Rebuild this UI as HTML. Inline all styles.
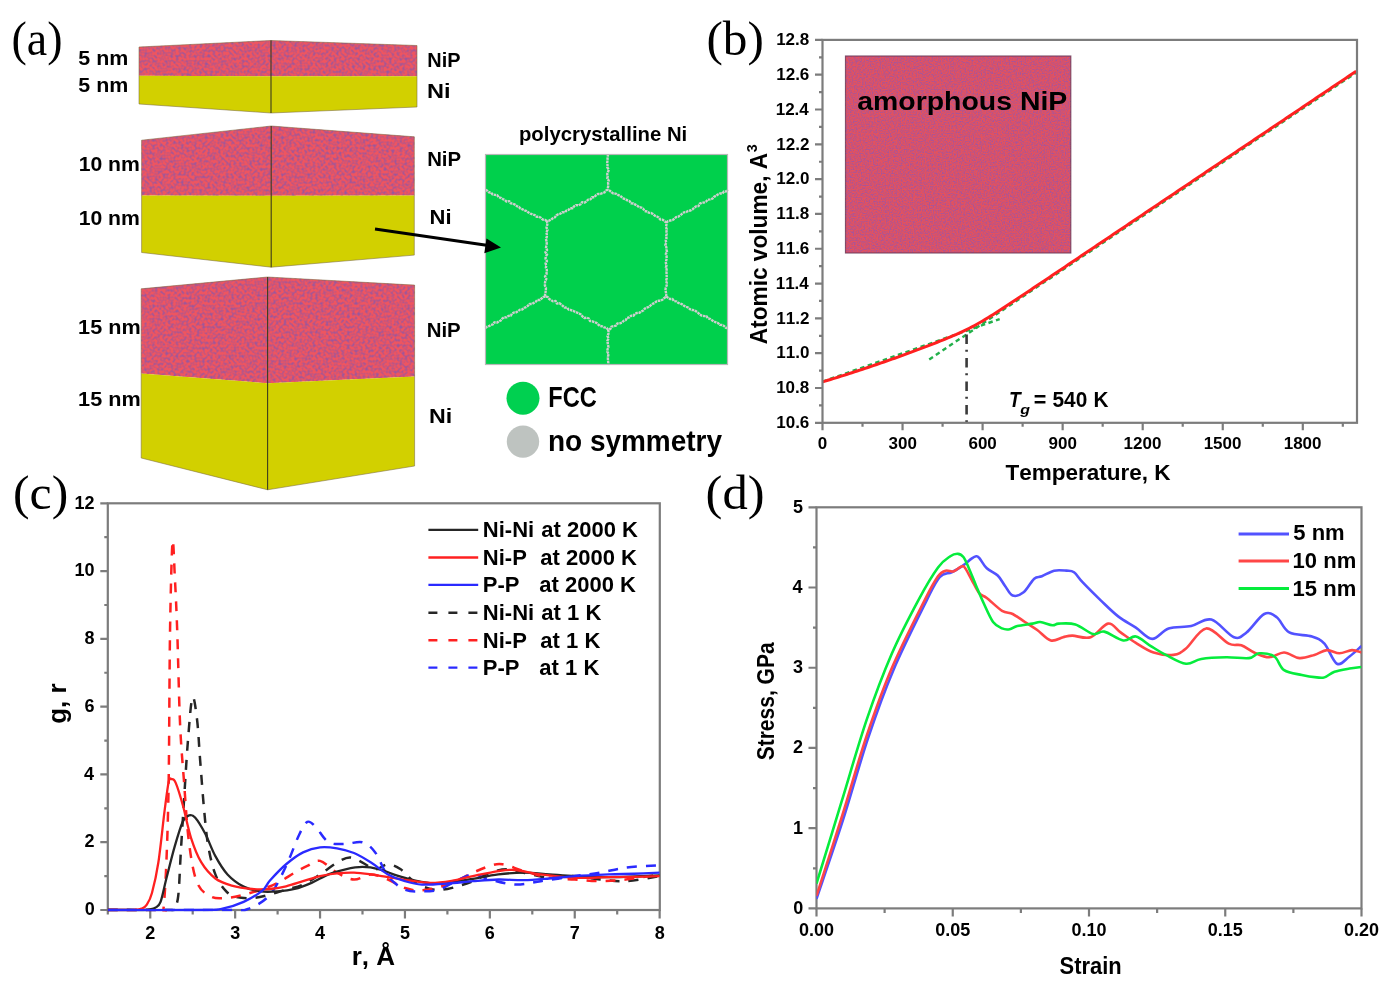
<!DOCTYPE html>
<html><head><meta charset="utf-8"><style>
html,body{margin:0;padding:0;background:#fff;width:1389px;height:984px;overflow:hidden}
svg{display:block}
#w{}
text{font-kerning:none}
#w{will-change:transform}
.b{font-family:"Liberation Sans",sans-serif;font-weight:bold}
.bi{font-family:"Liberation Sans",sans-serif;font-weight:bold;font-style:italic}
.r{font-family:"Liberation Sans",sans-serif}
.s{font-family:"Liberation Serif",serif}
</style></head><body>
<div id="w"><svg width="1389" height="984" viewBox="0 0 1389 984">
<rect width="1389" height="984" fill="#fff"/>

<defs>
<clipPath id="clipc"><rect x="107.8" y="503.3" width="552.0" height="408.3"/></clipPath>
<clipPath id="clipd"><rect x="816.5" y="497.3" width="545.0" height="411.09999999999997"/></clipPath>
<filter id="speck" x="0" y="0" width="100%" height="100%" color-interpolation-filters="sRGB">
<feTurbulence type="fractalNoise" baseFrequency="0.38" numOctaves="1" seed="7" result="n"/>
<feColorMatrix in="n" type="matrix" values="0 0 0 0 0.60  0 0 0 0 0.34  0 0 0 0 0.62  2.6 0 0 0 -1.02" result="bl"/>
<feGaussianBlur in="bl" stdDeviation="0.7" result="blb"/>
<feComposite in="blb" in2="SourceAlpha" operator="in" result="b2"/>
<feMerge><feMergeNode in="SourceGraphic"/><feMergeNode in="b2"/></feMerge>
</filter>
<filter id="speck2" x="0" y="0" width="100%" height="100%" color-interpolation-filters="sRGB">
<feTurbulence type="fractalNoise" baseFrequency="0.75" numOctaves="2" seed="11" result="n"/>
<feColorMatrix in="n" type="matrix" values="0 0 0 0 0.66  0 0 0 0 0.33  0 0 0 0 0.60  3.0 0 0 0 -1.2" result="bl"/>
<feGaussianBlur in="bl" stdDeviation="0.6" result="blb"/>
<feComposite in="blb" in2="SourceAlpha" operator="in" result="b2"/>
<feMerge><feMergeNode in="SourceGraphic"/><feMergeNode in="b2"/></feMerge>
</filter>
</defs>
<text class="s" x="11.48" y="54.50" font-size="48.00" textLength="51.04" lengthAdjust="spacingAndGlyphs" fill="#000">(a)</text>
<text class="s" x="706.44" y="55.00" font-size="48.00" textLength="57.32" lengthAdjust="spacingAndGlyphs" fill="#000">(b)</text>
<text class="s" x="13.02" y="509.00" font-size="48.00" textLength="55.17" lengthAdjust="spacingAndGlyphs" fill="#000">(c)</text>
<text class="s" x="705.57" y="509.00" font-size="48.00" textLength="59.05" lengthAdjust="spacingAndGlyphs" fill="#000">(d)</text>
<path d="M139,47 L271,40.5 L417,45.5 L417,76.2 L271,76.2 L139,75.8 Z" fill="#ee5560" filter="url(#speck)"/><path d="M139,75.8 L271,76.2 L417,76.2 L417,107 L271,113 L139,104 Z" fill="#d2d000"/><path d="M139,47 L271,40.5 L417,45.5 L417,107 L271,113 L139,104 Z" fill="none" stroke="#7a6a40" stroke-opacity="0.55" stroke-width="1"/><line x1="271" y1="40.5" x2="271" y2="113" stroke="#3c3c1c" stroke-width="1.1"/>
<path d="M141.6,140.2 L271.2,126 L414.3,136.8 L414.3,195.5 L271.2,195.8 L141.6,195.5 Z" fill="#ee5560" filter="url(#speck)"/><path d="M141.6,195.5 L271.2,195.8 L414.3,195.5 L414.3,255.1 L271.2,267.2 L141.6,252.5 Z" fill="#d2d000"/><path d="M141.6,140.2 L271.2,126 L414.3,136.8 L414.3,255.1 L271.2,267.2 L141.6,252.5 Z" fill="none" stroke="#7a6a40" stroke-opacity="0.55" stroke-width="1"/><line x1="271.2" y1="126" x2="271.2" y2="267.2" stroke="#3c3c1c" stroke-width="1.1"/>
<path d="M141.2,288.8 L267.6,277 L414.6,285.1 L414.6,376.6 L267.6,383.2 L141.2,373.6 Z" fill="#ee5560" filter="url(#speck)"/><path d="M141.2,373.6 L267.6,383.2 L414.6,376.6 L414.6,466 L267.6,489.8 L141.2,458 Z" fill="#d2d000"/><path d="M141.2,288.8 L267.6,277 L414.6,285.1 L414.6,466 L267.6,489.8 L141.2,458 Z" fill="none" stroke="#7a6a40" stroke-opacity="0.55" stroke-width="1"/><line x1="267.6" y1="277" x2="267.6" y2="489.8" stroke="#3c3c1c" stroke-width="1.1"/>
<text class="b" x="78.34" y="65.00" font-size="20.50" textLength="49.99" lengthAdjust="spacingAndGlyphs" fill="#000">5 nm</text>
<text class="b" x="78.34" y="92.00" font-size="20.50" textLength="49.99" lengthAdjust="spacingAndGlyphs" fill="#000">5 nm</text>
<text class="b" x="427.37" y="66.70" font-size="21.00" textLength="33.21" lengthAdjust="spacingAndGlyphs" fill="#000">NiP</text>
<text class="b" x="427.13" y="98.00" font-size="21.00" textLength="23.54" lengthAdjust="spacingAndGlyphs" fill="#000">Ni</text>
<text class="b" x="78.67" y="170.50" font-size="21.00" textLength="61.25" lengthAdjust="spacingAndGlyphs" fill="#000">10 nm</text>
<text class="b" x="78.67" y="225.40" font-size="21.00" textLength="61.25" lengthAdjust="spacingAndGlyphs" fill="#000">10 nm</text>
<text class="b" x="427.14" y="166.20" font-size="21.00" textLength="33.96" lengthAdjust="spacingAndGlyphs" fill="#000">NiP</text>
<text class="b" x="429.53" y="224.00" font-size="21.00" textLength="22.03" lengthAdjust="spacingAndGlyphs" fill="#000">Ni</text>
<text class="b" x="78.14" y="334.40" font-size="21.00" textLength="62.50" lengthAdjust="spacingAndGlyphs" fill="#000">15 nm</text>
<text class="b" x="78.14" y="405.60" font-size="21.00" textLength="62.50" lengthAdjust="spacingAndGlyphs" fill="#000">15 nm</text>
<text class="b" x="426.63" y="336.80" font-size="21.00" textLength="34.07" lengthAdjust="spacingAndGlyphs" fill="#000">NiP</text>
<text class="b" x="428.95" y="423.40" font-size="21.00" textLength="23.19" lengthAdjust="spacingAndGlyphs" fill="#000">Ni</text>
<text class="b" x="518.96" y="140.80" font-size="20.60" textLength="168.28" lengthAdjust="spacingAndGlyphs" fill="#000">polycrystalline Ni</text>
<rect x="485" y="154" width="243" height="211" fill="#00d04c"/>
<path d="M608.00,154.00 L607.78,156.22 L607.56,158.45 L607.47,160.68 L607.20,162.90 L607.57,165.12 L607.24,167.35 L608.85,169.57 L608.06,171.80 L607.20,174.03 L607.73,176.25 L607.28,178.47 L608.70,180.70 L608.06,182.93 L608.46,185.15 L607.92,187.38 L608.00,189.60" fill="none" stroke="#cfcfcf" stroke-width="2.4" stroke-linejoin="round" stroke-dasharray="2.6 0.7"/>
<path d="M608.00,189.60 L605.96,190.50 L604.45,192.41 L602.31,193.10 L600.28,194.02 L597.79,194.01 L595.94,195.27 L594.46,197.26 L591.96,197.25 L590.53,199.32 L588.16,199.57 L586.59,201.37 L584.72,202.59 L582.03,202.22 L580.60,204.29 L578.62,205.30 L576.02,205.09 L574.13,206.28 L572.64,208.23 L570.11,208.17 L568.48,209.86 L566.40,210.65 L564.81,212.43 L562.23,212.27 L560.46,213.68 L558.26,214.26 L556.35,215.39 L554.86,217.36 L552.84,218.27 L551.02,219.60 L549.07,220.65 L546.80,221.10 L547.54,223.33 L547.08,225.55 L546.50,227.76 L547.54,230.00 L546.29,232.20 L546.86,234.43 L546.87,236.65 L545.92,238.85 L546.49,241.09 L546.75,243.31 L546.41,245.53 L545.97,247.74 L547.10,249.98 L545.41,252.17 L547.09,254.42 L545.74,256.62 L545.53,258.84 L546.98,261.09 L545.56,263.28 L546.28,265.52 L545.86,267.73 L546.84,269.97 L546.74,272.19 L546.46,274.40 L545.02,276.60 L546.35,278.84 L545.31,281.05 L544.96,283.26 L544.90,285.48 L545.93,287.72 L545.88,289.94 L545.53,292.16 L545.04,294.37 L545.50,296.60 L547.78,297.00 L549.20,299.05 L551.11,300.16 L553.01,301.29 L555.65,301.00 L556.84,303.48 L559.51,303.15 L561.26,304.57 L562.99,306.03 L564.68,307.55 L567.12,307.65 L568.58,309.61 L570.85,310.04 L573.00,310.70 L574.95,311.73 L577.02,312.54 L579.06,313.41 L580.95,314.55 L582.45,316.44 L584.15,317.95 L586.80,317.65 L588.85,318.50 L590.01,321.02 L592.35,321.33 L594.41,322.15 L596.50,322.91 L598.16,324.51 L599.91,325.91 L602.18,326.35 L604.16,327.32 L606.42,327.76 L608.00,329.50 L610.31,329.06 L611.47,326.57 L613.81,326.20 L616.06,325.64 L617.37,323.44 L619.85,323.28 L621.98,322.53 L623.64,320.93 L625.72,320.08 L627.05,317.92 L629.28,317.33 L630.97,315.79 L633.53,315.78 L634.98,313.83 L637.06,312.98 L639.48,312.74 L641.29,311.41 L643.34,310.51 L644.82,308.59 L646.79,307.55 L648.94,306.83 L650.66,305.34 L652.43,303.95 L654.47,303.03 L656.19,301.53 L658.33,300.79 L660.81,300.66 L662.73,299.51 L664.37,297.90 L666.20,296.60 L666.20,294.35 L665.91,292.11 L665.46,289.86 L665.79,287.62 L666.71,285.37 L666.86,283.13 L665.95,280.88 L666.71,278.64 L666.69,276.39 L666.55,274.15 L666.50,271.90 L666.67,269.65 L665.95,267.41 L666.57,265.16 L665.81,262.92 L666.17,260.67 L666.69,258.43 L666.54,256.18 L665.83,253.94 L667.00,251.69 L666.47,249.45 L666.35,247.20 L665.32,244.95 L666.28,242.71 L665.75,240.46 L666.51,238.22 L666.13,235.97 L666.77,233.73 L666.47,231.48 L666.74,229.24 L665.93,226.99 L666.46,224.75 L666.20,222.50 L664.47,221.03 L662.61,219.79 L660.25,219.44 L658.74,217.58 L656.83,216.44 L654.73,215.62 L653.04,214.08 L651.08,213.01 L648.76,212.60 L646.83,211.49 L644.56,210.96 L643.22,208.81 L641.37,207.56 L639.02,207.18 L637.27,205.75 L635.35,204.61 L633.42,203.50 L630.99,203.27 L629.59,201.22 L627.47,200.44 L625.61,199.21 L623.45,198.50 L621.69,197.08 L619.88,195.75 L617.82,194.87 L615.96,193.64 L613.40,193.63 L611.58,192.33 L609.89,190.79 L608.00,189.60" fill="none" stroke="#cfcfcf" stroke-width="2.4" stroke-linejoin="round" stroke-dasharray="2.6 0.7"/>
<path d="M546.80,221.10 L544.93,219.84 L542.58,219.52 L540.97,217.75 L538.93,216.83 L536.46,216.75 L534.82,215.05 L532.62,214.43 L530.49,213.69 L528.56,212.54 L526.72,211.23 L524.61,210.43 L522.63,209.40 L520.50,208.63 L518.86,206.93 L516.80,206.05 L514.99,204.66 L512.98,203.68 L510.70,203.23 L509.25,201.15 L506.52,201.58 L504.86,199.91 L502.76,199.10 L500.87,197.87 L498.64,197.33 L497.23,195.17 L494.86,194.88 L492.59,194.41 L491.07,192.47 L488.66,192.28 L487.03,190.54 L485.00,189.60" fill="none" stroke="#cfcfcf" stroke-width="2.4" stroke-linejoin="round" stroke-dasharray="2.6 0.7"/>
<path d="M666.20,222.50 L668.06,221.18 L670.26,220.51 L672.57,220.04 L674.44,218.76 L676.10,217.07 L678.43,216.63 L680.28,215.30 L682.04,213.80 L683.84,212.38 L686.22,212.04 L688.18,210.93 L690.51,210.49 L692.51,209.45 L694.20,207.81 L695.98,206.34 L698.43,206.14 L699.67,203.67 L701.75,202.77 L704.13,202.44 L706.17,201.46 L707.76,199.64 L710.17,199.36 L712.38,198.71 L713.94,196.83 L715.98,195.86 L717.80,194.47 L719.85,193.51 L722.42,193.53 L723.91,191.53 L726.40,191.39 L728.00,189.60" fill="none" stroke="#cfcfcf" stroke-width="2.4" stroke-linejoin="round" stroke-dasharray="2.6 0.7"/>
<path d="M545.50,296.60 L543.20,296.96 L541.52,298.49 L539.85,300.04 L537.29,299.91 L535.75,301.70 L533.86,302.85 L531.99,304.02 L529.48,303.98 L527.94,305.79 L526.16,307.13 L524.05,307.85 L522.40,309.44 L520.03,309.66 L518.22,310.96 L516.40,312.22 L514.04,312.46 L512.05,313.41 L510.78,315.73 L508.39,315.92 L506.66,317.35 L504.15,317.31 L502.33,318.58 L500.82,320.45 L498.85,321.44 L497.00,322.63 L494.35,322.32 L492.98,324.45 L490.76,324.97 L488.92,326.20 L486.83,326.95 L485.00,328.20" fill="none" stroke="#cfcfcf" stroke-width="2.4" stroke-linejoin="round" stroke-dasharray="2.6 0.7"/>
<path d="M666.20,296.60 L668.11,297.79 L669.99,299.03 L672.49,299.05 L673.96,301.09 L676.33,301.38 L678.13,302.77 L680.29,303.47 L682.31,304.43 L684.12,305.82 L686.16,306.74 L688.24,307.59 L689.92,309.22 L692.04,310.00 L694.49,310.13 L696.31,311.49 L698.13,312.84 L699.75,314.60 L701.77,315.57 L704.04,316.04 L706.47,316.21 L707.84,318.45 L710.12,318.91 L711.99,320.17 L713.87,321.40 L715.93,322.30 L718.05,323.07 L719.69,324.78 L722.11,324.96 L724.10,325.99 L725.72,327.74 L728.00,328.20" fill="none" stroke="#cfcfcf" stroke-width="2.4" stroke-linejoin="round" stroke-dasharray="2.6 0.7"/>
<path d="M608.00,329.50 L608.55,331.72 L608.37,333.94 L607.41,336.16 L608.78,338.38 L607.39,340.59 L607.65,342.81 L608.12,345.03 L608.38,347.25 L607.49,349.47 L607.26,351.69 L608.64,353.91 L608.04,356.12 L607.91,358.34 L608.00,360.56 L608.30,362.78 L608.00,365.00" fill="none" stroke="#cfcfcf" stroke-width="2.4" stroke-linejoin="round" stroke-dasharray="2.6 0.7"/>
<rect x="485.5" y="154.5" width="242" height="210" fill="none" stroke="#b8b8b8" stroke-width="1.2"/>
<line x1="375" y1="229" x2="490" y2="245.8" stroke="#000" stroke-width="3"/>
<path d="M501,247.5 L486.5,238.6 L484.3,253.2 Z" fill="#000"/>
<circle cx="523" cy="398.2" r="16.5" fill="#00d050"/>
<circle cx="523" cy="441.6" r="16.2" fill="#bec3c0"/>
<text class="b" x="548.22" y="406.70" font-size="29.80" textLength="48.53" lengthAdjust="spacingAndGlyphs" fill="#000">FCC</text>
<text class="b" x="547.96" y="450.50" font-size="29.00" textLength="174.09" lengthAdjust="spacingAndGlyphs" fill="#000">no symmetry</text>
<rect x="845.5" y="56" width="225.3" height="197" fill="#e2525f" filter="url(#speck2)"/>
<rect x="845.5" y="56" width="225.3" height="197" fill="none" stroke="#6a3858" stroke-width="1.2" stroke-opacity="0.8"/>
<text class="b" x="857.27" y="109.70" font-size="26.20" textLength="210.00" lengthAdjust="spacingAndGlyphs" fill="#000">amorphous NiP</text>
<path d="M822.50,382.77 L999.68,320.13" stroke="#22b04a" stroke-width="2.4" stroke-dasharray="4.5 3.5" fill="none" transform="translate(0,-1.1)"/>
<path d="M929.23,358.06 L1356.17,71.23" stroke="#22b04a" stroke-width="2.4" stroke-dasharray="4.5 3.5" fill="none" transform="translate(0,1.4)"/>
<path d="M822.50,381.90 L825.17,381.10 L827.84,380.29 L830.50,379.47 L833.17,378.65 L835.84,377.83 L838.51,377.00 L841.18,376.16 L843.85,375.32 L846.51,374.47 L849.18,373.61 L851.85,372.76 L854.52,371.89 L857.19,371.02 L859.86,370.14 L862.52,369.26 L865.19,368.38 L867.86,367.48 L870.53,366.59 L873.20,365.68 L875.87,364.77 L878.53,363.86 L881.20,362.94 L883.87,362.01 L886.54,361.08 L889.21,360.14 L891.88,359.20 L894.54,358.25 L897.21,357.30 L899.88,356.34 L902.55,355.37 L905.22,354.40 L907.89,353.43 L910.55,352.44 L913.22,351.45 L915.89,350.46 L918.56,349.46 L921.23,348.45 L923.90,347.44 L926.57,346.42 L929.23,345.39 L931.90,344.35 L934.57,343.31 L937.24,342.26 L939.91,341.19 L942.58,340.12 L945.24,339.03 L947.91,337.93 L950.58,336.81 L953.25,335.67 L955.92,334.51 L958.59,333.32 L961.25,332.11 L963.92,330.86 L966.59,329.57 L969.26,328.24 L971.93,326.87 L974.60,325.46 L977.26,324.01 L979.93,322.51 L982.60,320.97 L985.27,319.40 L987.94,317.79 L990.61,316.14 L993.27,314.48 L995.94,312.79 L998.61,311.08 L1001.28,309.36 L1003.95,307.62 L1006.62,305.87 L1009.28,304.12 L1011.95,302.36 L1014.62,300.59 L1017.29,298.81 L1019.96,297.04 L1022.62,295.26 L1025.29,293.47 L1027.96,291.69 L1030.63,289.90 L1033.30,288.12 L1035.97,286.33 L1038.63,284.54 L1041.30,282.75 L1043.97,280.96 L1046.64,279.17 L1049.31,277.38 L1051.98,275.59 L1054.64,273.79 L1057.31,272.00 L1059.98,270.21 L1062.65,268.42 L1065.32,266.63 L1067.99,264.83 L1070.65,263.04 L1073.32,261.25 L1075.99,259.46 L1078.66,257.66 L1081.33,255.87 L1084.00,254.08 L1086.66,252.29 L1089.33,250.49 L1092.00,248.70 L1094.67,246.91 L1097.34,245.12 L1100.01,243.32 L1102.67,241.53 L1105.34,239.74 L1108.01,237.95 L1110.68,236.15 L1113.35,234.36 L1116.02,232.57 L1118.68,230.78 L1121.35,228.98 L1124.02,227.19 L1126.69,225.40 L1129.36,223.60 L1132.03,221.81 L1134.69,220.02 L1137.36,218.23 L1140.03,216.43 L1142.70,214.64 L1145.37,212.85 L1148.04,211.06 L1150.70,209.26 L1153.37,207.47 L1156.04,205.68 L1158.71,203.89 L1161.38,202.09 L1164.05,200.30 L1166.71,198.51 L1169.38,196.71 L1172.05,194.92 L1174.72,193.13 L1177.39,191.34 L1180.06,189.54 L1182.72,187.75 L1185.39,185.96 L1188.06,184.17 L1190.73,182.37 L1193.40,180.58 L1196.07,178.79 L1198.73,177.00 L1201.40,175.20 L1204.07,173.41 L1206.74,171.62 L1209.41,169.82 L1212.08,168.03 L1214.74,166.24 L1217.41,164.45 L1220.08,162.65 L1222.75,160.86 L1225.42,159.07 L1228.09,157.28 L1230.75,155.48 L1233.42,153.69 L1236.09,151.90 L1238.76,150.11 L1241.43,148.31 L1244.10,146.52 L1246.76,144.73 L1249.43,142.93 L1252.10,141.14 L1254.77,139.35 L1257.44,137.56 L1260.11,135.76 L1262.78,133.97 L1265.44,132.18 L1268.11,130.39 L1270.78,128.59 L1273.45,126.80 L1276.12,125.01 L1278.78,123.22 L1281.45,121.42 L1284.12,119.63 L1286.79,117.84 L1289.46,116.04 L1292.13,114.25 L1294.80,112.46 L1297.46,110.67 L1300.13,108.87 L1302.80,107.08 L1305.47,105.29 L1308.14,103.50 L1310.80,101.70 L1313.47,99.91 L1316.14,98.12 L1318.81,96.33 L1321.48,94.53 L1324.15,92.74 L1326.82,90.95 L1329.48,89.15 L1332.15,87.36 L1334.82,85.57 L1337.49,83.78 L1340.16,81.98 L1342.82,80.19 L1345.49,78.40 L1348.16,76.61 L1350.83,74.81 L1353.50,73.02 L1356.17,71.23" stroke="#ff2020" stroke-width="3" fill="none"/>
<path d="M966.59,334.5 L966.59,422.8" stroke="#3a3a3a" stroke-width="2.6" stroke-dasharray="9.5 5.8 2 6.2" fill="none"/>
<rect x="822.5" y="39.9" width="534.5" height="382.90000000000003" fill="none" stroke="#7c7c7c" stroke-width="2.2"/>
<path d="M822.5,422.80 h-7.5 M822.5,405.40 h-3.5 M822.5,387.99 h-7.5 M822.5,370.59 h-3.5 M822.5,353.18 h-7.5 M822.5,335.78 h-3.5 M822.5,318.37 h-7.5 M822.5,300.97 h-3.5 M822.5,283.56 h-7.5 M822.5,266.16 h-3.5 M822.5,248.75 h-7.5 M822.5,231.35 h-3.5 M822.5,213.95 h-7.5 M822.5,196.54 h-3.5 M822.5,179.14 h-7.5 M822.5,161.73 h-3.5 M822.5,144.33 h-7.5 M822.5,126.92 h-3.5 M822.5,109.52 h-7.5 M822.5,92.11 h-3.5 M822.5,74.71 h-7.5 M822.5,57.30 h-3.5 M822.5,39.90 h-7.5 M822.50,422.8 v7.5 M862.52,422.8 v4 M902.55,422.8 v7.5 M942.58,422.8 v4 M982.60,422.8 v7.5 M1022.62,422.8 v4 M1062.65,422.8 v7.5 M1102.67,422.8 v4 M1142.70,422.8 v7.5 M1182.72,422.8 v4 M1222.75,422.8 v7.5 M1262.78,422.8 v4 M1302.80,422.8 v7.5 M1342.82,422.8 v4 " stroke="#7c7c7c" stroke-width="2.2" fill="none"/>
<text class="b" x="776.23" y="428.00" font-size="17.00" fill="#000">10.6</text>
<text class="b" x="776.14" y="393.19" font-size="17.00" fill="#000">10.8</text>
<text class="b" x="776.31" y="358.38" font-size="17.00" fill="#000">11.0</text>
<text class="b" x="776.29" y="323.57" font-size="17.00" fill="#000">11.2</text>
<text class="b" x="775.70" y="288.76" font-size="17.00" fill="#000">11.4</text>
<text class="b" x="776.23" y="253.95" font-size="17.00" fill="#000">11.6</text>
<text class="b" x="776.14" y="219.15" font-size="17.00" fill="#000">11.8</text>
<text class="b" x="776.31" y="184.34" font-size="17.00" fill="#000">12.0</text>
<text class="b" x="776.29" y="149.53" font-size="17.00" fill="#000">12.2</text>
<text class="b" x="775.70" y="114.72" font-size="17.00" fill="#000">12.4</text>
<text class="b" x="776.23" y="79.91" font-size="17.00" fill="#000">12.6</text>
<text class="b" x="776.14" y="45.10" font-size="17.00" fill="#000">12.8</text>
<text class="b" x="817.79" y="449.20" font-size="17.00" fill="#000">0</text>
<text class="b" x="888.52" y="449.20" font-size="17.00" fill="#000">300</text>
<text class="b" x="968.46" y="449.20" font-size="17.00" fill="#000">600</text>
<text class="b" x="1048.52" y="449.20" font-size="17.00" fill="#000">900</text>
<text class="b" x="1123.60" y="449.20" font-size="17.00" fill="#000">1200</text>
<text class="b" x="1203.65" y="449.20" font-size="17.00" fill="#000">1500</text>
<text class="b" x="1283.70" y="449.20" font-size="17.00" fill="#000">1800</text>
<text class="b" x="1005.55" y="480.30" font-size="22.70" textLength="165.06" lengthAdjust="spacingAndGlyphs" fill="#000">Temperature, K</text>
<text class="bi" x="1009.05" y="407.20" font-size="22.00" textLength="11.61" lengthAdjust="spacingAndGlyphs" fill="#000">T</text>
<text class="bi" x="1020.35" y="414.40" font-size="13.50" textLength="9.72" lengthAdjust="spacingAndGlyphs" fill="#000">g</text>
<text class="b" x="1033.71" y="407.20" font-size="22.00" textLength="12.58" lengthAdjust="spacingAndGlyphs" fill="#000">=</text>
<text class="b" x="1052.46" y="407.20" font-size="22.00" textLength="34.80" lengthAdjust="spacingAndGlyphs" fill="#000">540</text>
<text class="b" x="1093.61" y="407.20" font-size="22.00" textLength="14.98" lengthAdjust="spacingAndGlyphs" fill="#000">K</text>
<text class="b" x="-344.26" y="766.60" font-size="24.00" textLength="191.36" lengthAdjust="spacingAndGlyphs" fill="#000" transform="rotate(-90)">Atomic volume, A</text>
<text class="b" x="-152.33" y="756.50" font-size="15.50" textLength="7.94" lengthAdjust="spacingAndGlyphs" fill="#000" transform="rotate(-90)">3</text>
<rect x="107.8" y="503.3" width="552.0" height="406.7" fill="none" stroke="#7c7c7c" stroke-width="2.2"/>
<path d="M107.8,910.00 h-7.5 M107.8,876.11 h-3.5 M107.8,842.22 h-7.5 M107.8,808.33 h-3.5 M107.8,774.43 h-7.5 M107.8,740.54 h-3.5 M107.8,706.65 h-7.5 M107.8,672.76 h-3.5 M107.8,638.87 h-7.5 M107.8,604.98 h-3.5 M107.8,571.08 h-7.5 M107.8,537.19 h-3.5 M107.8,503.30 h-7.5 M107.80,910.0 v4.5 M150.25,910.0 v8.5 M192.70,910.0 v4.5 M235.15,910.0 v8.5 M277.60,910.0 v4.5 M320.05,910.0 v8.5 M362.50,910.0 v4.5 M404.95,910.0 v8.5 M447.40,910.0 v4.5 M489.85,910.0 v8.5 M532.30,910.0 v4.5 M574.75,910.0 v8.5 M617.20,910.0 v4.5 M659.65,910.0 v8.5 " stroke="#7c7c7c" stroke-width="2.2" fill="none"/>
<text class="b" x="84.63" y="915.20" font-size="18.00" fill="#000">0</text>
<text class="b" x="84.61" y="847.42" font-size="18.00" fill="#000">2</text>
<text class="b" x="83.99" y="779.63" font-size="18.00" fill="#000">4</text>
<text class="b" x="84.54" y="711.85" font-size="18.00" fill="#000">6</text>
<text class="b" x="84.44" y="644.07" font-size="18.00" fill="#000">8</text>
<text class="b" x="74.62" y="576.28" font-size="18.00" fill="#000">10</text>
<text class="b" x="74.60" y="508.50" font-size="18.00" fill="#000">12</text>
<text class="b" x="145.29" y="938.60" font-size="18.00" fill="#000">2</text>
<text class="b" x="230.26" y="938.60" font-size="18.00" fill="#000">3</text>
<text class="b" x="314.96" y="938.60" font-size="18.00" fill="#000">4</text>
<text class="b" x="399.92" y="938.60" font-size="18.00" fill="#000">5</text>
<text class="b" x="484.84" y="938.60" font-size="18.00" fill="#000">6</text>
<text class="b" x="569.75" y="938.60" font-size="18.00" fill="#000">7</text>
<text class="b" x="654.64" y="938.60" font-size="18.00" fill="#000">8</text>
<text class="b" x="-723.76" y="66.30" font-size="25.00" textLength="40.25" lengthAdjust="spacingAndGlyphs" fill="#000" transform="rotate(-90)">g, r</text>
<text class="b" x="351.68" y="964.80" font-size="25.50" textLength="43.40" lengthAdjust="spacingAndGlyphs" fill="#000">r, Å</text>
<g clip-path="url(#clipc)">
<path d="M107.80,910.00 C117.70,910.00 156.58,910.11 167.23,910.00 C177.88,909.89 169.96,911.19 171.73,909.32 C173.50,907.46 176.33,908.36 177.84,898.82 C179.36,889.27 179.80,868.31 180.81,852.05 C181.83,835.78 182.77,819.79 183.96,801.21 C185.14,782.62 186.53,757.83 187.95,740.54 C189.36,723.26 190.92,700.89 192.45,697.50 C193.97,694.11 195.83,709.70 197.11,720.21 C198.40,730.71 198.98,745.34 200.17,760.54 C201.36,775.73 202.90,797.14 204.25,811.38 C205.59,825.61 206.38,835.44 208.24,845.94 C210.09,856.45 212.48,866.96 215.37,874.41 C218.25,881.87 222.16,886.95 225.56,890.68 C228.95,894.41 231.32,895.54 235.74,896.78 C240.17,898.02 246.57,898.48 252.13,898.14 C257.69,897.80 263.45,896.16 269.11,894.75 C274.77,893.34 280.43,891.36 286.09,889.66 C291.75,887.97 297.41,887.12 303.07,884.58 C308.73,882.04 314.39,878.09 320.05,874.41 C325.71,870.74 332.08,865.38 337.03,862.55 C341.98,859.73 345.52,857.47 349.76,857.47 C354.01,857.47 358.25,860.57 362.50,862.55 C366.75,864.53 370.99,869.05 375.24,869.33 C379.48,869.61 383.73,864.25 387.97,864.25 C392.22,864.25 396.46,866.51 400.71,869.33 C404.95,872.15 408.49,877.92 413.44,881.19 C418.39,884.47 424.76,887.69 430.42,888.99 C436.08,890.29 440.33,890.29 447.40,888.99 C454.48,887.69 465.80,883.90 472.87,881.19 C479.94,878.48 484.19,874.70 489.85,872.72 C495.51,870.74 501.17,869.33 506.83,869.33 C512.49,869.33 516.74,871.31 523.81,872.72 C530.88,874.13 540.79,877.24 549.28,877.80 C557.77,878.37 566.26,875.83 574.75,876.11 C583.24,876.39 591.73,878.65 600.22,879.50 C608.71,880.34 615.78,881.76 625.69,881.19 C635.59,880.63 653.99,876.96 659.65,876.11" stroke="#262626" stroke-width="2.5" fill="none" stroke-dasharray="10 9"/>
<path d="M107.80,910.00 C116.71,910.00 152.00,910.17 161.29,910.00 C170.57,909.83 162.65,916.95 163.49,908.98 C164.34,901.02 165.52,883.56 166.38,862.21 C167.24,840.86 168.06,819.28 168.67,780.87 C169.28,742.46 169.39,671.52 170.03,631.75 C170.67,591.98 171.69,551.26 172.49,542.28 C173.30,533.29 174.08,562.95 174.87,577.86 C175.66,592.77 176.39,607.46 177.25,631.75 C178.11,656.04 178.93,698.74 180.05,723.60 C181.17,748.45 182.47,761.10 183.96,780.87 C185.44,800.64 186.77,825.27 188.96,842.22 C191.16,859.16 193.38,873.45 197.11,882.55 C200.85,891.64 206.31,894.24 211.38,896.78 C216.44,899.32 222.13,898.14 227.51,897.80 C232.89,897.46 238.12,896.10 243.64,894.75 C249.16,893.39 254.96,891.64 260.62,889.66 C266.28,887.69 271.94,885.71 277.60,882.89 C283.26,880.06 289.63,875.54 294.58,872.72 C299.53,869.89 303.07,867.92 307.31,865.94 C311.56,863.96 315.10,859.73 320.05,860.86 C325.00,861.99 331.37,869.61 337.03,872.72 C342.69,875.83 348.35,879.22 354.01,879.50 C359.67,879.78 365.33,874.41 370.99,874.41 C376.65,874.41 382.31,877.24 387.97,879.50 C393.63,881.76 399.29,886.16 404.95,887.97 C410.61,889.78 414.86,890.91 421.93,890.34 C429.01,889.78 438.91,887.52 447.40,884.58 C455.89,881.64 465.80,875.83 472.87,872.72 C479.94,869.61 484.90,867.35 489.85,865.94 C494.80,864.53 496.93,863.40 502.59,864.25 C508.25,865.09 516.03,868.77 523.81,871.02 C531.59,873.28 540.79,876.39 549.28,877.80 C557.77,879.22 566.26,878.93 574.75,879.50 C583.24,880.06 591.73,881.19 600.22,881.19 C608.71,881.19 615.78,880.63 625.69,879.50 C635.59,878.37 653.99,875.26 659.65,874.41" stroke="#ff2020" stroke-width="2.5" fill="none" stroke-dasharray="10 9"/>
<path d="M107.80,910.00 C127.61,910.00 203.31,910.17 226.66,910.00 C250.01,909.83 240.67,911.53 247.88,908.98 C255.10,906.44 263.59,901.92 269.96,894.75 C276.33,887.58 281.28,875.83 286.09,865.94 C290.90,856.06 295.29,842.78 298.82,835.44 C302.36,828.10 304.49,823.29 307.31,821.88 C310.14,820.47 312.27,823.58 315.81,826.97 C319.34,830.35 323.59,839.39 328.54,842.22 C333.49,845.04 339.86,843.91 345.52,843.91 C351.18,843.91 357.55,840.80 362.50,842.22 C367.45,843.63 370.99,846.74 375.24,852.38 C379.48,858.03 383.02,869.89 387.97,876.11 C392.92,882.32 399.29,887.12 404.95,889.66 C410.61,892.21 416.27,891.36 421.93,891.36 C427.59,891.36 433.25,891.36 438.91,889.66 C444.57,887.97 450.23,883.73 455.89,881.19 C461.55,878.65 467.21,874.70 472.87,874.41 C478.53,874.13 482.78,877.80 489.85,879.50 C496.93,881.19 506.83,884.30 515.32,884.58 C523.81,884.86 530.88,882.60 540.79,881.19 C550.69,879.78 564.85,877.52 574.75,876.11 C584.65,874.70 591.73,874.13 600.22,872.72 C608.71,871.31 615.78,868.88 625.69,867.64 C635.59,866.39 653.99,865.66 659.65,865.26" stroke="#2a2aff" stroke-width="2.5" fill="none" stroke-dasharray="10 9"/>
<path d="M107.80,910.00 C111.34,910.00 123.08,910.00 129.03,910.00 C134.97,910.00 139.92,910.11 143.46,910.00 C147.00,909.89 148.27,909.72 150.25,909.32 C152.23,908.93 153.65,908.81 155.34,907.63 C157.04,906.44 158.60,907.06 160.44,902.20 C162.28,897.35 163.98,887.86 166.38,878.48 C168.79,869.10 172.13,855.43 174.87,845.94 C177.62,836.46 180.50,826.63 182.85,821.54 C185.20,816.46 186.93,816.12 188.96,815.44 C191.00,814.76 192.36,814.43 195.08,817.48 C197.79,820.53 201.88,827.30 205.27,833.74 C208.65,840.18 211.66,849.33 215.37,856.11 C219.08,862.89 222.80,869.33 227.51,874.41 C232.22,879.50 238.12,883.79 243.64,886.61 C249.16,889.44 254.96,890.57 260.62,891.36 C266.28,892.15 271.94,891.75 277.60,891.36 C283.26,890.96 288.92,890.40 294.58,888.99 C300.24,887.58 305.90,885.32 311.56,882.89 C317.22,880.46 322.88,876.67 328.54,874.41 C334.20,872.15 339.86,870.57 345.52,869.33 C351.18,868.09 356.84,866.96 362.50,866.96 C368.16,866.96 373.82,867.92 379.48,869.33 C385.14,870.74 390.80,873.62 396.46,875.43 C402.12,877.24 407.07,878.82 413.44,880.18 C419.81,881.53 427.59,883.34 434.67,883.56 C441.74,883.79 449.52,882.32 455.89,881.53 C462.26,880.74 465.80,880.01 472.87,878.82 C479.94,877.63 489.85,875.43 498.34,874.41 C506.83,873.40 515.32,872.72 523.81,872.72 C532.30,872.72 540.79,873.85 549.28,874.41 C557.77,874.98 566.26,875.66 574.75,876.11 C583.24,876.56 591.73,877.01 600.22,877.13 C608.71,877.24 615.78,877.07 625.69,876.79 C635.59,876.50 653.99,875.66 659.65,875.43" stroke="#262626" stroke-width="2.3" fill="none"/>
<path d="M107.80,910.00 C110.63,910.00 120.25,910.00 124.78,910.00 C129.31,910.00 132.14,910.23 134.97,910.00 C137.80,909.77 139.78,909.55 141.76,908.64 C143.74,907.74 145.16,907.18 146.85,904.58 C148.55,901.98 150.02,900.11 151.95,893.05 C153.87,885.99 156.31,875.83 158.40,862.21 C160.49,848.60 162.80,824.76 164.51,811.38 C166.23,797.99 167.47,787.26 168.67,781.89 C169.88,776.52 170.56,779.01 171.73,779.18 C172.90,779.35 173.87,778.56 175.72,782.91 C177.57,787.26 180.30,796.12 182.85,805.27 C185.40,814.43 187.95,828.32 191.00,837.81 C194.06,847.30 197.13,855.43 201.19,862.21 C205.25,868.99 210.27,874.58 215.37,878.48 C220.46,882.38 225.63,883.85 231.75,885.60 C237.88,887.35 245.90,888.42 252.13,888.99 C258.36,889.55 263.45,889.44 269.11,888.99 C274.77,888.54 280.43,887.58 286.09,886.28 C291.75,884.98 297.41,882.89 303.07,881.19 C308.73,879.50 314.39,877.41 320.05,876.11 C325.71,874.81 331.37,873.96 337.03,873.40 C342.69,872.83 348.35,872.55 354.01,872.72 C359.67,872.89 365.33,873.68 370.99,874.41 C376.65,875.15 381.60,876.11 387.97,877.13 C394.34,878.14 402.12,879.55 409.19,880.51 C416.27,881.47 423.35,882.83 430.42,882.89 C437.50,882.94 444.57,881.98 451.65,880.85 C458.72,879.72 465.09,877.75 472.87,876.11 C480.65,874.47 491.27,872.04 498.34,871.02 C505.42,870.01 508.25,869.44 515.32,870.01 C522.39,870.57 530.88,873.11 540.79,874.41 C550.69,875.71 563.43,877.35 574.75,877.80 C586.07,878.25 598.81,877.29 608.71,877.13 C618.62,876.96 625.69,876.96 634.18,876.79 C642.67,876.62 655.40,876.22 659.65,876.11" stroke="#ff2020" stroke-width="2.3" fill="none"/>
<path d="M107.80,910.00 C123.36,910.00 182.23,910.17 201.19,910.00 C220.15,909.83 214.49,910.34 221.57,908.98 C228.64,907.63 236.85,904.92 243.64,901.87 C250.43,898.82 257.93,894.24 262.32,890.68 C266.70,887.12 266.00,884.92 269.96,880.51 C273.92,876.11 280.57,868.93 286.09,864.25 C291.61,859.56 297.41,855.21 303.07,852.38 C308.73,849.56 314.39,847.98 320.05,847.30 C325.71,846.62 331.37,847.36 337.03,848.32 C342.69,849.28 348.35,850.69 354.01,853.06 C359.67,855.43 365.33,858.99 370.99,862.55 C376.65,866.11 382.31,871.31 387.97,874.41 C393.63,877.52 399.29,879.50 404.95,881.19 C410.61,882.89 414.86,884.19 421.93,884.58 C429.01,884.98 438.91,884.13 447.40,883.56 C455.89,883.00 464.38,881.87 472.87,881.19 C481.36,880.51 489.85,879.67 498.34,879.50 C506.83,879.33 515.32,880.34 523.81,880.18 C532.30,880.01 540.79,879.16 549.28,878.48 C557.77,877.80 564.85,876.79 574.75,876.11 C584.65,875.43 598.81,874.81 608.71,874.41 C618.62,874.02 625.69,874.02 634.18,873.74 C642.67,873.45 655.40,872.89 659.65,872.72" stroke="#2a2aff" stroke-width="2.3" fill="none"/>
</g>
<line x1="428.4" y1="529.9" x2="478.2" y2="529.9" stroke="#262626" stroke-width="2.4"/>
<text class="b" x="482.83" y="537.20" font-size="22.00" fill="#000">Ni-Ni</text>
<text class="b" x="541.36" y="537.20" font-size="22.00" fill="#000">at 2000 K</text>
<line x1="428.4" y1="557.5" x2="478.2" y2="557.5" stroke="#ff2020" stroke-width="2.4"/>
<text class="b" x="482.83" y="564.80" font-size="22.00" fill="#000">Ni-P</text>
<text class="b" x="540.36" y="564.80" font-size="22.00" fill="#000">at 2000 K</text>
<line x1="428.4" y1="584.9" x2="478.2" y2="584.9" stroke="#2a2aff" stroke-width="2.4"/>
<text class="b" x="482.83" y="592.20" font-size="22.00" fill="#000">P-P</text>
<text class="b" x="539.36" y="592.20" font-size="22.00" fill="#000">at 2000 K</text>
<line x1="428.4" y1="612.8" x2="478.2" y2="612.8" stroke="#262626" stroke-width="2.4" stroke-dasharray="9 11"/>
<text class="b" x="482.83" y="620.10" font-size="22.00" fill="#000">Ni-Ni</text>
<text class="b" x="541.36" y="620.10" font-size="22.00" fill="#000">at 1 K</text>
<line x1="428.4" y1="640.2" x2="478.2" y2="640.2" stroke="#ff2020" stroke-width="2.4" stroke-dasharray="9 11"/>
<text class="b" x="482.83" y="647.50" font-size="22.00" fill="#000">Ni-P</text>
<text class="b" x="540.36" y="647.50" font-size="22.00" fill="#000">at 1 K</text>
<line x1="428.4" y1="667.6" x2="478.2" y2="667.6" stroke="#2a2aff" stroke-width="2.4" stroke-dasharray="9 11"/>
<text class="b" x="482.83" y="674.90" font-size="22.00" fill="#000">P-P</text>
<text class="b" x="539.36" y="674.90" font-size="22.00" fill="#000">at 1 K</text>
<rect x="816.5" y="507.3" width="545.0" height="401.09999999999997" fill="none" stroke="#7c7c7c" stroke-width="2.2"/>
<path d="M816.5,908.40 h-8 M816.5,868.29 h-3.5 M816.5,828.18 h-8 M816.5,788.07 h-3.5 M816.5,747.96 h-8 M816.5,707.85 h-3.5 M816.5,667.74 h-8 M816.5,627.63 h-3.5 M816.5,587.52 h-8 M816.5,547.41 h-3.5 M816.5,507.30 h-8 M816.50,908.4 v8 M884.62,908.4 v4.5 M952.75,908.4 v8 M1020.88,908.4 v4.5 M1089.00,908.4 v8 M1157.12,908.4 v4.5 M1225.25,908.4 v8 M1293.38,908.4 v4.5 M1361.50,908.4 v8 " stroke="#7c7c7c" stroke-width="2.2" fill="none"/>
<text class="b" x="793.13" y="913.80" font-size="18.00" fill="#000">0</text>
<text class="b" x="792.89" y="833.58" font-size="18.00" fill="#000">1</text>
<text class="b" x="793.11" y="753.36" font-size="18.00" fill="#000">2</text>
<text class="b" x="793.04" y="673.14" font-size="18.00" fill="#000">3</text>
<text class="b" x="792.49" y="592.92" font-size="18.00" fill="#000">4</text>
<text class="b" x="792.89" y="512.70" font-size="18.00" fill="#000">5</text>
<text class="b" x="799.00" y="936.30" font-size="18.00" fill="#000">0.00</text>
<text class="b" x="935.13" y="936.30" font-size="18.00" fill="#000">0.05</text>
<text class="b" x="1071.50" y="936.30" font-size="18.00" fill="#000">0.10</text>
<text class="b" x="1207.63" y="936.30" font-size="18.00" fill="#000">0.15</text>
<text class="b" x="1344.00" y="936.30" font-size="18.00" fill="#000">0.20</text>
<text class="b" x="1059.57" y="973.50" font-size="23.50" textLength="62.09" lengthAdjust="spacingAndGlyphs" fill="#000">Strain</text>
<text class="b" x="-760.30" y="774.00" font-size="24.50" textLength="117.87" lengthAdjust="spacingAndGlyphs" fill="#000" transform="rotate(-90)">Stress, GPa</text>
<g clip-path="url(#clipd)">
<path d="M816.50,898.77 C820.91,885.67 834.35,846.90 842.93,820.16 C851.52,793.42 859.60,763.34 868.00,738.33 C876.40,713.33 883.63,693.01 893.35,670.15 C903.06,647.28 918.60,616.67 926.32,601.16 C934.04,585.65 935.45,581.90 939.67,577.09 C943.89,572.28 947.85,574.15 951.66,572.28 C955.47,570.41 959.24,568.13 962.56,565.86 C965.88,563.59 969.28,560.25 971.55,558.64 C973.82,557.04 974.91,556.37 976.18,556.23 C977.46,556.10 977.41,555.83 979.18,557.84 C980.95,559.84 983.72,565.33 986.81,568.27 C989.90,571.21 994.67,572.55 997.71,575.49 C1000.76,578.43 1002.57,582.57 1005.07,585.92 C1007.57,589.26 1009.61,594.47 1012.70,595.54 C1015.79,596.61 1020.01,595.14 1023.60,592.33 C1027.19,589.53 1031.18,581.37 1034.23,578.70 C1037.27,576.02 1038.54,577.63 1041.86,576.29 C1045.17,574.95 1050.03,571.61 1054.12,570.67 C1058.21,569.74 1063.07,570.41 1066.38,570.67 C1069.70,570.94 1071.24,570.27 1074.01,572.28 C1076.78,574.28 1078.55,578.03 1083.01,582.71 C1087.46,587.39 1094.86,594.74 1100.72,600.36 C1106.58,605.97 1112.30,611.85 1118.16,616.40 C1124.02,620.95 1130.19,623.89 1135.87,627.63 C1141.55,631.37 1146.77,638.73 1152.22,638.86 C1157.67,638.99 1162.08,630.57 1168.57,628.43 C1175.06,626.29 1184.06,627.50 1191.19,626.03 C1198.32,624.55 1204.22,617.74 1211.35,619.61 C1218.48,621.48 1228.11,635.12 1233.97,637.26 C1239.83,639.40 1241.46,636.32 1246.51,632.44 C1251.55,628.57 1259.18,616.53 1264.22,613.99 C1269.26,611.45 1272.57,614.13 1276.75,617.20 C1280.93,620.28 1283.43,629.23 1289.29,632.44 C1295.15,635.65 1306.05,634.58 1311.90,636.45 C1317.76,638.33 1320.26,639.13 1324.44,643.67 C1328.62,648.22 1332.80,661.59 1336.97,663.73 C1341.15,665.87 1345.42,659.45 1349.51,656.51 C1353.60,653.57 1359.50,647.82 1361.50,646.08" stroke="#5252ff" stroke-width="2.6" fill="none" stroke-linejoin="round"/>
<path d="M816.50,895.97 C820.68,882.93 833.21,844.42 841.57,817.75 C849.93,791.08 858.24,760.93 866.64,735.93 C875.04,710.93 882.26,690.47 891.98,667.74 C901.70,645.01 917.28,614.79 924.96,599.55 C932.63,584.31 934.58,581.10 938.03,576.29 C941.49,571.48 943.12,571.48 945.66,570.67 C948.21,569.87 950.75,572.14 953.29,571.48 C955.84,570.81 959.02,567.33 960.92,566.66 C962.83,565.99 962.97,565.33 964.74,567.46 C966.51,569.60 969.15,575.22 971.55,579.50 C973.96,583.78 976.64,590.06 979.18,593.14 C981.73,596.21 983.00,595.01 986.81,597.95 C990.63,600.89 997.76,608.11 1002.07,610.78 C1006.39,613.46 1008.88,612.12 1012.70,613.99 C1016.51,615.86 1020.88,619.34 1024.96,622.01 C1029.05,624.69 1032.91,626.96 1037.22,630.04 C1041.54,633.11 1046.54,639.26 1050.85,640.47 C1055.16,641.67 1059.52,638.06 1063.11,637.26 C1066.70,636.45 1067.79,635.65 1072.38,635.65 C1076.96,635.65 1084.69,639.26 1090.63,637.26 C1096.58,635.25 1103.08,624.42 1108.08,623.62 C1113.07,622.82 1115.98,629.23 1120.61,632.44 C1125.24,635.65 1130.37,639.53 1135.87,642.87 C1141.37,646.21 1147.32,650.49 1153.58,652.50 C1159.85,654.50 1168.07,655.57 1173.47,654.90 C1178.88,654.24 1180.56,652.90 1186.01,648.49 C1191.46,644.08 1199.04,629.23 1206.17,628.43 C1213.31,627.63 1222.93,640.87 1228.79,643.67 C1234.65,646.48 1237.10,643.81 1241.33,645.28 C1245.55,646.75 1249.50,650.49 1254.13,652.50 C1258.77,654.50 1264.13,657.31 1269.12,657.31 C1274.12,657.31 1279.07,652.36 1284.11,652.50 C1289.15,652.63 1294.33,657.71 1299.37,658.11 C1304.41,658.51 1309.77,656.24 1314.36,654.90 C1318.94,653.57 1322.71,650.36 1326.89,650.09 C1331.07,649.82 1335.25,653.30 1339.43,653.30 C1343.61,653.30 1348.28,650.23 1351.96,650.09 C1355.64,649.96 1359.91,652.10 1361.50,652.50" stroke="#ff4646" stroke-width="2.6" fill="none" stroke-linejoin="round"/>
<path d="M816.50,883.53 C820.68,869.89 833.21,828.98 841.57,801.71 C849.93,774.43 858.24,744.62 866.64,719.88 C875.04,695.15 883.31,673.36 891.98,653.30 C900.66,633.25 911.01,613.86 918.69,599.55 C926.36,585.25 932.77,574.68 938.03,567.46 C943.30,560.25 946.98,558.51 950.30,556.23 C953.61,553.96 955.75,553.69 957.93,553.83 C960.11,553.96 961.61,554.76 963.38,557.04 C965.15,559.31 966.42,562.65 968.56,567.46 C970.69,572.28 973.64,579.90 976.18,585.92 C978.73,591.93 981.00,597.55 983.82,603.56 C986.63,609.58 990.04,617.87 993.08,622.01 C996.12,626.16 999.30,627.23 1002.07,628.43 C1004.84,629.64 1007.16,629.64 1009.70,629.23 C1012.25,628.83 1013.52,626.96 1017.33,626.03 C1021.15,625.09 1028.78,624.29 1032.59,623.62 C1036.41,622.95 1036.91,621.75 1040.22,622.01 C1043.54,622.28 1049.40,624.96 1052.48,625.22 C1055.57,625.49 1054.94,623.75 1058.75,623.62 C1062.57,623.49 1069.65,622.68 1075.38,624.42 C1081.10,626.16 1088.27,632.84 1093.09,634.05 C1097.90,635.25 1099.22,630.57 1104.26,631.64 C1109.30,632.71 1118.07,639.66 1123.34,640.47 C1128.60,641.27 1131.28,635.52 1135.87,636.45 C1140.46,637.39 1145.86,643.01 1150.86,646.08 C1155.85,649.16 1159.99,651.96 1165.85,654.90 C1171.70,657.85 1180.11,663.06 1186.01,663.73 C1191.91,664.40 1194.55,659.99 1201.27,658.92 C1207.99,657.85 1218.39,657.45 1226.34,657.31 C1234.29,657.18 1243.51,658.78 1248.96,658.11 C1254.41,657.45 1254.82,653.57 1259.04,653.30 C1263.26,653.03 1270.12,653.70 1274.30,656.51 C1278.48,659.32 1279.52,667.07 1284.11,670.15 C1288.70,673.22 1296.37,673.76 1301.82,674.96 C1307.27,676.16 1313.04,676.97 1316.81,677.37 C1320.58,677.77 1321.49,678.30 1324.44,677.37 C1327.39,676.43 1330.34,673.22 1334.52,671.75 C1338.70,670.28 1345.01,669.34 1349.51,668.54 C1354.01,667.74 1359.50,667.21 1361.50,666.94" stroke="#05ec3c" stroke-width="2.6" fill="none" stroke-linejoin="round"/>
</g>
<line x1="1238.6" y1="534" x2="1289" y2="534" stroke="#5252ff" stroke-width="3"/>
<text class="b" x="1293.32" y="540.20" font-size="22.00" fill="#000">5 nm</text>
<line x1="1238.6" y1="561.1" x2="1289" y2="561.1" stroke="#ff4646" stroke-width="3"/>
<text class="b" x="1292.61" y="567.90" font-size="22.00" fill="#000">10 nm</text>
<line x1="1238.6" y1="588.4" x2="1289" y2="588.4" stroke="#05ec3c" stroke-width="3"/>
<text class="b" x="1292.61" y="595.60" font-size="22.00" fill="#000">15 nm</text>
</svg></div>
</body></html>
